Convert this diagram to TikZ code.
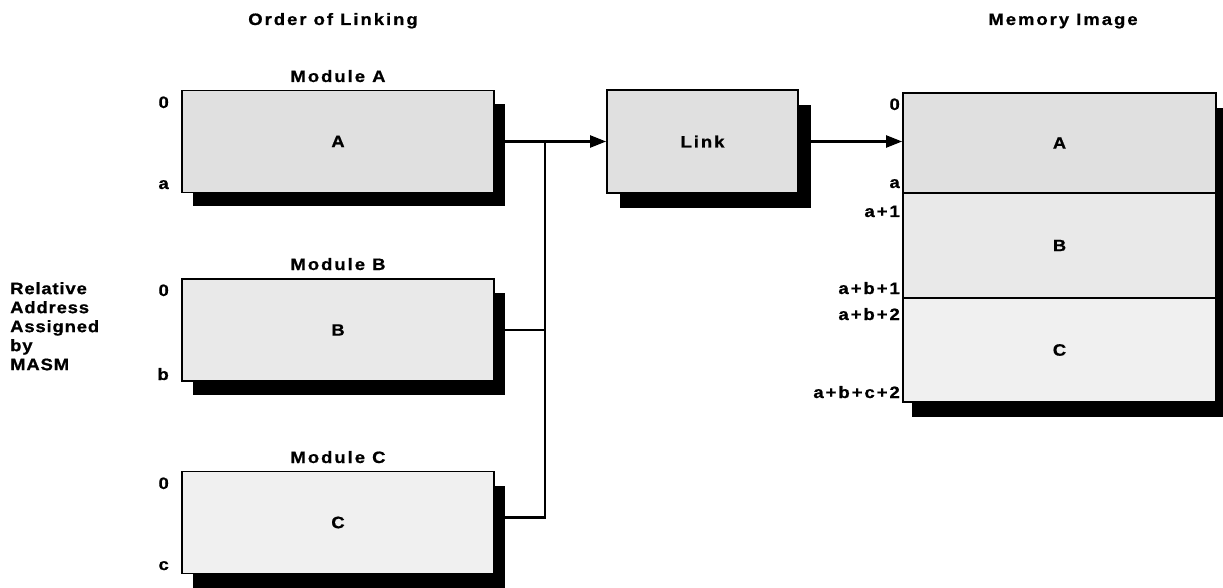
\documentclass[tikz,border=0pt]{standalone}
\usepackage{fontspec}
\setmainfont{Liberation Sans}[LetterSpace=12, FakeStretch=1.12]
\usetikzlibrary{arrows.meta,shadows}
\newcommand\lblfont{\fontsize{16.5}{19}\selectfont\bfseries\addfontfeatures{FakeBold=0.8}}
\tikzset{
  x=1pt, y=-1pt,
  box/.style={draw=black, line width=1.8pt, inner sep=0pt, font=\lblfont},
  modbox/.style={box, minimum width=312pt, minimum height=102pt},
  lbl/.style={font=\lblfont, inner sep=0pt},
  conn/.style={line width=2.2pt},
  arr/.style={conn, -{Triangle[length=16pt,width=12pt]}},
}
\begin{document}
\begin{tikzpicture}
\useasboundingbox (0,0) rectangle (1223,588);

% titles
\node[lbl, anchor=base] (t1) at (333,25) {Order of Linking};
\node[lbl, anchor=base] (t2) at (1063,25) {Memory Image};

% modules
\node[modbox, fill=gray!24, general shadow={fill=black, shadow xshift=11pt, shadow yshift=-14pt}] (A) at (338,141.5) {A};
\node[modbox, fill=gray!17, general shadow={fill=black, shadow xshift=11pt, shadow yshift=-14pt}] (B) at (338,330) {B};
\node[modbox, fill=gray!12, general shadow={fill=black, shadow xshift=11pt, shadow yshift=-14pt}] (C) at (338,522.5) {C};

\node[lbl, anchor=base] (mA) at (338,82) {Module A};
\node[lbl, anchor=base] (mB) at (338,270) {Module B};
\node[lbl, anchor=base] (mC) at (338,463) {Module C};

\node[lbl, anchor=base east] (a0) at (169,108) {0};
\node[lbl, anchor=base east] (a1) at (169,189) {a};
\node[lbl, anchor=base east] (b0) at (169,296) {0};
\node[lbl, anchor=base east] (b1) at (169,380) {b};
\node[lbl, anchor=base east] (c0) at (169,489) {0};
\node[lbl, anchor=base east] (c1) at (169,570) {c};

\node[lbl, anchor=north west, align=left, font=\lblfont\addfontfeatures{LetterSpace=5}] (rel) at (10,282)
  {Relative\\Address\\Assigned\\by\\MASM};

% link
\node[box, fill=gray!24, minimum width=191pt, minimum height=103pt,
  general shadow={fill=black, shadow xshift=13pt, shadow yshift=-15pt}] (Link) at (702.5,141.5) {Link};

% memory image
\node[box, fill=white, minimum width=313pt, minimum height=309pt,
  general shadow={fill=black, shadow xshift=9pt, shadow yshift=-15pt}] (mem) at (1059.5,247.5) {};
\node[box, fill=gray!24, minimum width=313pt, minimum height=100pt] (MA) at (1059.5,143) {A};
\node[box, fill=gray!17, minimum width=313pt, minimum height=105pt] (MB) at (1059.5,245.5) {B};
\node[box, fill=gray!12, minimum width=313pt, minimum height=104pt] (MC) at (1059.5,350) {C};

\node[lbl, anchor=base east] (l0) at (900,110) {0};
\node[lbl, anchor=base east] (l1) at (900,188) {a};
\node[lbl, anchor=base east] (l2) at (900,217) {a+1};
\node[lbl, anchor=base east] (l3) at (900,294) {a+b+1};
\node[lbl, anchor=base east] (l4) at (900,320) {a+b+2};
\node[lbl, anchor=base east] (l5) at (900,398) {a+b+c+2};

% connectors
\coordinate (bus) at (545,141.5);
\draw[conn] (B.east) -| (bus);
\draw[conn] ([yshift=5pt]C.east) -| (bus);
\draw[arr] (A.east) -- (Link.west);
\draw[arr] (Link.east) -- (Link.east -| MA.west);
\end{tikzpicture}
\end{document}
